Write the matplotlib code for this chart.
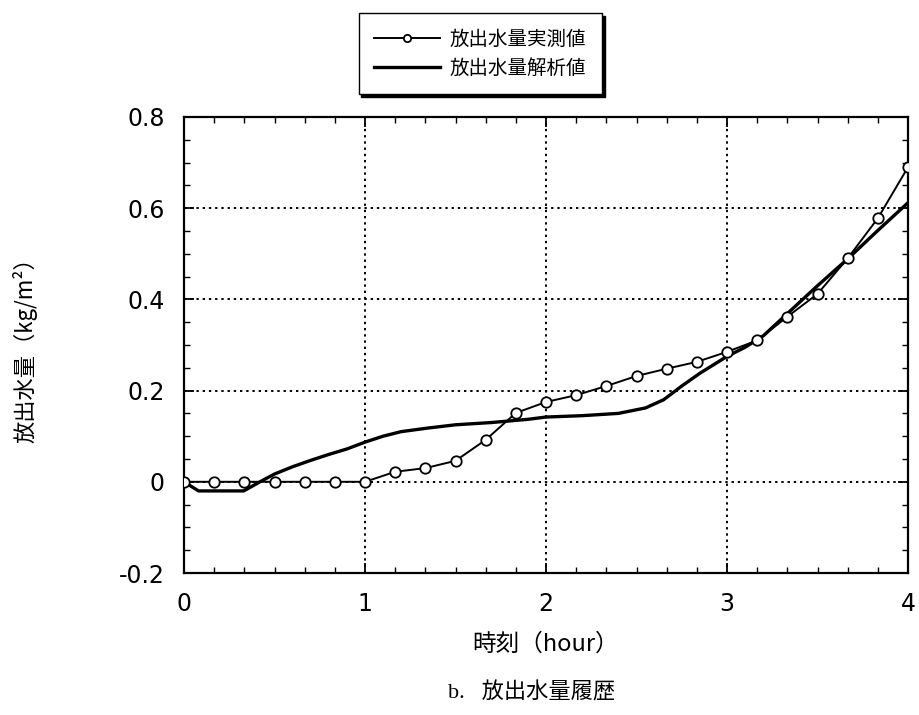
import matplotlib
matplotlib.use("Agg")
import matplotlib.pyplot as plt
from matplotlib.ticker import MultipleLocator

plt.rcParams['font.family'] = ['Noto Sans CJK JP', 'DejaVu Sans']

# measured (every 10 minutes)
meas_x = [0, 1/6, 2/6, 3/6, 4/6, 5/6, 1, 7/6, 8/6, 9/6, 10/6, 11/6, 2,
          13/6, 14/6, 15/6, 16/6, 17/6, 3, 19/6, 20/6, 21/6, 22/6, 23/6, 4]
meas_y = [0, 0, 0, 0, 0, 0, 0, 0.022, 0.030, 0.046, 0.092, 0.151, 0.175,
          0.190, 0.210, 0.232, 0.248, 0.263, 0.285, 0.310, 0.362, 0.412,
          0.490, 0.578, 0.690]

# analysis
ana_x = [0, 0.08, 0.33, 0.42, 0.5, 0.6, 0.7, 0.8, 0.9, 1.0, 1.1, 1.2, 1.35,
         1.5, 1.7, 1.9, 2.0, 2.2, 2.4, 2.55, 2.65, 2.75, 2.85, 3.0, 3.1,
         3.2, 3.35, 3.5, 3.67, 3.83, 4.0]
ana_y = [0, -0.02, -0.02, 0.0, 0.017, 0.033, 0.047, 0.060, 0.072, 0.087,
         0.100, 0.110, 0.118, 0.125, 0.130, 0.137, 0.142, 0.145, 0.150,
         0.162, 0.180, 0.210, 0.238, 0.275, 0.295, 0.320, 0.375, 0.430,
         0.490, 0.550, 0.612]

labels = ['放出水量実測値', '放出水量解析値']
xticks = [0, 1, 2, 3, 4]
xticklabels = ['0', '1', '2', '3', '4']
yticks = [-0.2, 0, 0.2, 0.4, 0.6, 0.8]
yticklabels = ['-0.2', '0', '0.2', '0.4', '0.6', '0.8']

fig = plt.figure(figsize=(9.2, 7.15), dpi=100)
ax = fig.add_axes([0.2, 0.1986, 0.787, 0.6378])

l1, = ax.plot(meas_x, meas_y, color='black', lw=1.4, marker='o', ms=7.5,
              mfc='white', mec='black', mew=1.3, label=labels[0], zorder=3)
l2, = ax.plot(ana_x, ana_y, color='black', lw=2.4, label=labels[1], zorder=2)

ax.set_xlim(0, 4)
ax.set_ylim(-0.2, 0.8)
ax.xaxis.set_minor_locator(MultipleLocator(1/6))
ax.yaxis.set_minor_locator(MultipleLocator(0.05))
ax.set_xticks(xticks)
ax.set_xticklabels(xticklabels, family='DejaVu Sans')
ax.set_yticks(yticks)
ax.set_yticklabels(yticklabels, family='DejaVu Sans')
ax.tick_params(which='both', direction='in', top=True, right=True)
ax.tick_params(which='major', length=7, width=1.3, labelsize=17)
ax.tick_params(axis='y', which='major', pad=14)
ax.tick_params(axis='x', which='major', pad=14)
ax.tick_params(which='minor', length=4, width=1.0)
for s in ax.spines.values():
    s.set_linewidth(1.6)
ax.grid(True, which='major', color='black', linestyle=(0, (1.2, 2.0)), lw=1.4)

ax.set_xlabel('時刻（hour）', fontsize=17, labelpad=12)
ax.set_ylabel('放出水量（kg/m²）', fontsize=16)
ax.yaxis.set_label_coords(-0.203, 0.5)

fig.legend(handles=[l1, l2], labels=labels, loc='upper center',
           bbox_to_anchor=(0.522, 0.995), fontsize=14, frameon=True,
           fancybox=False, shadow={'color': 'black', 'alpha': 1},
           edgecolor='black', handlelength=3.4, borderpad=0.8,
           labelspacing=0.4, handletextpad=0.5, markerscale=0.7)

fig.text(0.578, 0.031, 'b.   放出水量履歴', ha='center', va='center', fontsize=16,
         family=['Liberation Serif', 'Noto Sans CJK JP'])

fig.savefig('out.png', dpi=100)
